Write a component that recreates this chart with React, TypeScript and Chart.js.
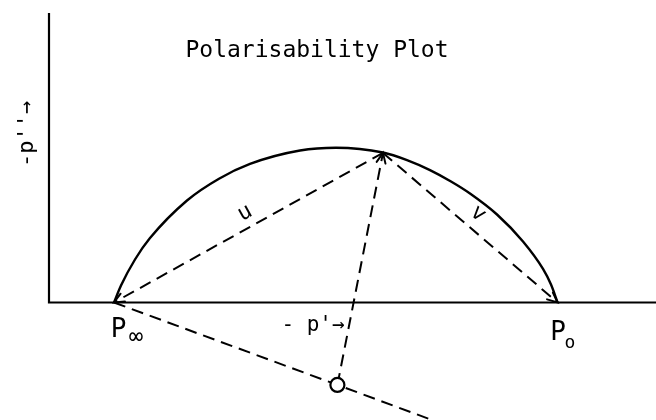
import React, { useEffect, useRef } from "react";
import { Chart, registerables } from "chart.js";

Chart.register(...registerables);

type Pt = { x: number; y: number };

// ---- data (arbitrary units, equal scale on both axes) ----
const X_MIN = -2.45;
const X_MAX = 30.35;
const Y_MIN = -5.875;
const Y_MAX = 15.125;

const AXIS_X_END = 30.4;
const AXIS_Y_END = 14.48;

const P_INF: Pt = { x: 3.25, y: 0 };
const P_ZERO: Pt = { x: 25.43, y: 0 };
const Q: Pt = { x: 16.7, y: 7.48 };
const O: Pt = { x: 14.42, y: -4.12 };
const TAIL_END: Pt = { x: 19.3, y: -5.93 };

const arcX = [3.25, 3.6, 4.3, 5.05, 6.9, 8.5, 10.05, 12.55, 14.35, 16.7, 17.9, 19.05, 20.1, 21.05, 22.4, 23.7, 24.7, 25.1, 25.43];
const arcY = [0, 0.85, 2.15, 3.22, 5.1, 6.19, 6.93, 7.6, 7.74, 7.5, 7.12, 6.62, 6.05, 5.45, 4.4, 3.05, 1.68, 0.9, 0];

const axesLine: Pt[] = [
  { x: 0, y: AXIS_Y_END },
  { x: 0, y: 0 },
  { x: AXIS_X_END, y: 0 },
];
const uLine: Pt[] = [Q, P_INF];
const vLine: Pt[] = [Q, P_ZERO];
const oqLine: Pt[] = [O, Q];
const tailLine: Pt[] = [P_INF, O, TAIL_END];
const centre: Pt[] = [O];

const ARROWS: [Pt, Pt][] = [
  [Q, P_INF],
  [O, Q],
  [Q, P_ZERO],
];

type Label = {
  text: string;
  x: number;
  y: number;
  size: number;
  rot?: number;
  align?: CanvasTextAlign;
  base?: CanvasTextBaseline;
};

const FONT = '"DejaVu Sans Mono", "Liberation Mono", monospace';

const LABELS: Label[] = [
  { text: "Polarisability Plot", x: 13.4, y: 12.275, size: 23, base: "alphabetic" },
  { text: "-p''→", x: -1.1, y: 8.425, size: 22, rot: -90, base: "middle" },
  { text: "P", x: 3.475, y: -1.725, size: 26, base: "alphabetic" },
  { text: "∞", x: 4.35, y: -2.05, size: 24, base: "alphabetic" },
  { text: "P", x: 25.45, y: -1.875, size: 26, base: "alphabetic" },
  { text: "o", x: 26.05, y: -2.25, size: 18, base: "alphabetic" },
  { text: "- p'→", x: 13.2, y: -1.175, size: 21, base: "middle" },
  { text: "u", x: 9.8, y: 4.475, size: 22, rot: -29, base: "middle" },
  { text: "v", x: 21.45, y: 4.425, size: 22, rot: 40, base: "middle" },
];

const arrowPlugin = {
  id: "arrowHeads",
  afterDatasetsDraw(chart: any) {
    const { ctx } = chart;
    const xs = chart.scales.x;
    const ys = chart.scales.y;
    ctx.save();
    ctx.strokeStyle = "#000";
    ctx.lineWidth = 2;
    ctx.setLineDash([]);
    ctx.lineCap = "round";
    for (const [from, to] of ARROWS) {
      const x1 = xs.getPixelForValue(from.x);
      const y1 = ys.getPixelForValue(from.y);
      const x2 = xs.getPixelForValue(to.x);
      const y2 = ys.getPixelForValue(to.y);
      const a = Math.atan2(y2 - y1, x2 - x1);
      const len = 11;
      const spread = 0.42;
      ctx.beginPath();
      ctx.moveTo(x2 - len * Math.cos(a - spread), y2 - len * Math.sin(a - spread));
      ctx.lineTo(x2, y2);
      ctx.lineTo(x2 - len * Math.cos(a + spread), y2 - len * Math.sin(a + spread));
      ctx.stroke();
    }
    ctx.restore();
  },
};

const labelPlugin = {
  id: "textLabels",
  afterDraw(chart: any) {
    const { ctx } = chart;
    const xs = chart.scales.x;
    const ys = chart.scales.y;
    for (const l of LABELS) {
      const px = xs.getPixelForValue(l.x);
      const py = ys.getPixelForValue(l.y);
      ctx.save();
      ctx.translate(px, py);
      if (l.rot) ctx.rotate((l.rot * Math.PI) / 180);
      ctx.fillStyle = "#000";
      ctx.font = `${l.size}px ${FONT}`;
      ctx.textAlign = l.align || "center";
      ctx.textBaseline = l.base || "middle";
      ctx.fillText(l.text, 0, 0);
      ctx.restore();
    }
  },
};

export default function App() {
  const ref = useRef<HTMLCanvasElement | null>(null);

  useEffect(() => {
    if (!ref.current) return;
    const arcData = arcX.map((x, i) => ({ x, y: arcY[i] }));
    const dashed = [12, 7];
    const lineBase = {
      showLine: true,
      pointRadius: 0,
      borderColor: "#000",
      backgroundColor: "#000",
      fill: false,
    };
    const chart = new Chart(ref.current, {
      type: "scatter",
      data: {
        datasets: [
          {
            ...lineBase,
            label: "centre",
            data: centre,
            showLine: false,
            pointRadius: 7,
            pointBackgroundColor: "#fff",
            pointBorderColor: "#000",
            pointBorderWidth: 2.2,
            order: -1,
          } as any,
          { ...lineBase, label: "axes", data: axesLine, borderWidth: 2.2 },
          {
            ...lineBase,
            label: "arc",
            data: arcData,
            borderWidth: 2.4,
            cubicInterpolationMode: "monotone",
          } as any,
          { ...lineBase, label: "u", data: uLine, borderWidth: 2, borderDash: dashed },
          { ...lineBase, label: "v", data: vLine, borderWidth: 2, borderDash: dashed },
          { ...lineBase, label: "oq", data: oqLine, borderWidth: 2, borderDash: dashed },
          { ...lineBase, label: "tail", data: tailLine, borderWidth: 2, borderDash: dashed },
        ],
      },
      options: {
        animation: false,
        responsive: false,
        devicePixelRatio: 1,
        layout: { padding: 0, autoPadding: false },
        plugins: {
          legend: { display: false },
          tooltip: { enabled: false },
          title: { display: false },
        },
        scales: {
          x: { type: "linear", min: X_MIN, max: X_MAX, display: false },
          y: { type: "linear", min: Y_MIN, max: Y_MAX, display: false },
        },
      },
      plugins: [arrowPlugin, labelPlugin],
    });
    return () => chart.destroy();
  }, []);

  return (
    <div
      style={{
        position: "fixed",
        left: 0,
        top: 0,
        width: 656,
        height: 420,
        background: "#fff",
      }}
    >
      <canvas ref={ref} width={656} height={420} style={{ display: "block" }} />
    </div>
  );
}
